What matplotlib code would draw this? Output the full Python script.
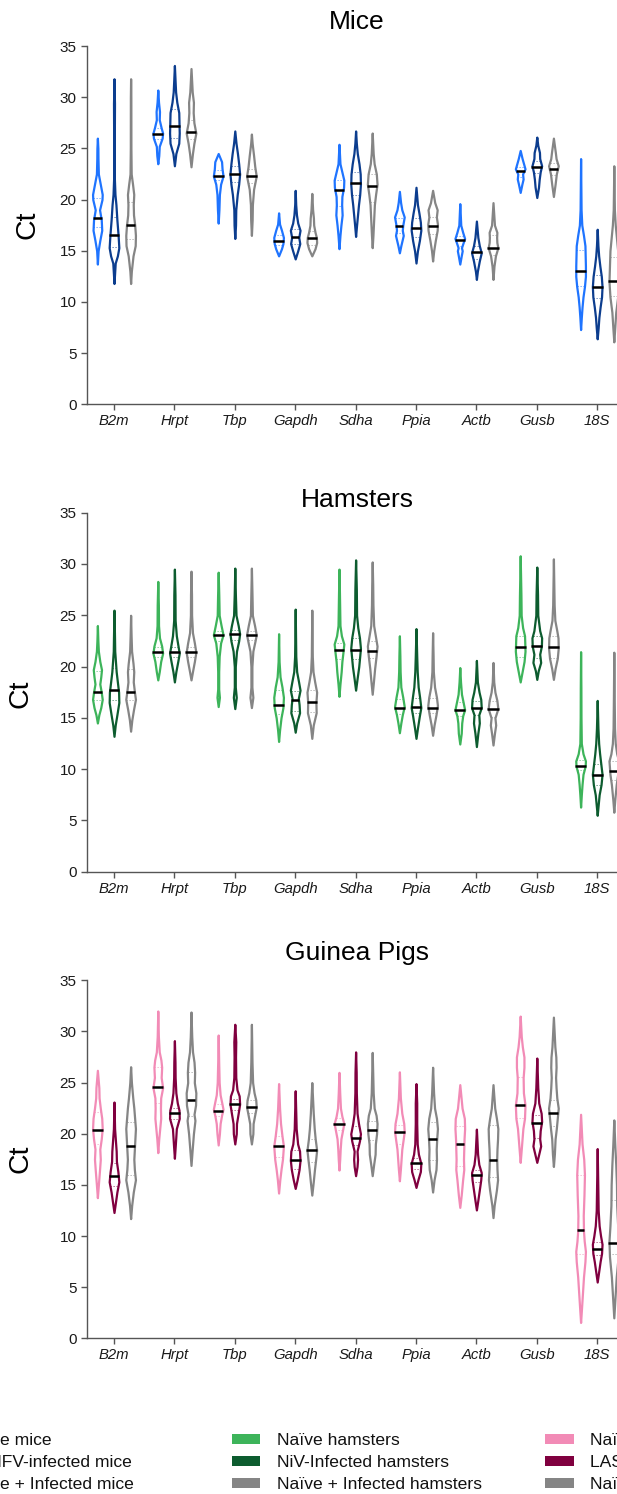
import numpy as np
import matplotlib
matplotlib.use("Agg")
import matplotlib.pyplot as plt
from matplotlib.patches import Rectangle

plt.rcParams['font.family'] = ['Liberation Sans', 'DejaVu Sans']

GENES = ["B2m", "Hrpt", "Tbp", "Gapdh", "Sdha", "Ppia", "Actb", "Gusb", "18S"]
Y_TICKS = [0, 5, 10, 15, 20, 25, 30, 35]
TITLES = ["Mice", "Hamsters", "Guinea Pigs"]

# ---- violin profiles: (Ct, relative width) ----
MICE_NAIVE = [
    [(13.7,0),(15,0.15),(16,0.5),(17,0.9),(18,0.8),(19,0.45),(20,0.95),(20.5,1.0),(21.5,0.6),(22.5,0.2),(24,0.12),(25,0.1),(26,0)],
    [(23.5,0),(24.3,0.2),(25.2,0.3),(26,0.9),(26.5,1.0),(27,0.7),(27.8,0.3),(28.6,0.35),(29.5,0.15),(30.7,0)],
    [(17.7,0),(19,0.15),(20.5,0.25),(21.5,0.5),(22.3,1.0),(23,0.8),(23.7,0.7),(24.5,0)],
    [(14.5,0),(15.2,0.6),(15.7,0.9),(16.3,1.0),(17,0.6),(17.6,0.2),(18.7,0)],
    [(15.2,0),(16.5,0.2),(17.5,0.4),(18.5,0.65),(19.5,0.55),(20.3,0.6),(21.2,0.95),(21.9,1.0),(22.7,0.6),(23.5,0.2),(25.4,0)],
    [(14.8,0),(15.5,0.3),(16.5,0.8),(17,0.6),(17.5,0.7),(18.3,1.0),(19,0.5),(19.7,0.25),(20.8,0)],
    [(13.7,0),(14.5,0.3),(15,0.5),(15.3,0.35),(15.8,0.7),(16.2,1.0),(16.8,0.6),(17.5,0.2),(19.6,0)],
    [(20.7,0),(21.5,0.35),(22,0.6),(22.5,0.5),(23,1.0),(23.5,0.7),(24,0.4),(24.8,0)],
    [(7.3,0),(8.5,0.15),(9.5,0.3),(10.5,0.5),(11.5,0.8),(12.5,1.0),(13.5,1.0),(14.5,0.95),(15.5,0.9),(16.5,0.6),(17.5,0.25),(19,0.1),(21,0.06),(24,0)],
]
MICE_INF = [
    [(11.8,0),(13,0.15),(13.8,0.25),(14.5,0.7),(15.3,1.0),(16.5,0.85),(18,0.6),(19.5,0.4),(20.5,0.2),(22,0.08),(25,0.06),(29.4,0.1),(30.5,0.05),(31.8,0)],
    [(23.3,0),(24.5,0.3),(25.5,0.9),(26.5,1.0),(27.5,0.95),(28.5,0.9),(29.5,0.5),(30.5,0.25),(31.5,0.15),(33.1,0)],
    [(16.2,0),(17.5,0.15),(19,0.2),(20.5,0.5),(21.5,0.8),(22.5,1.0),(23.5,0.8),(24.5,0.55),(25.5,0.25),(26.7,0)],
    [(14.2,0),(15,0.5),(15.7,0.9),(16.3,0.7),(17,0.95),(17.7,0.5),(18.5,0.25),(19.5,0.1),(20.9,0)],
    [(16.4,0),(17.5,0.2),(18.5,0.4),(19.5,0.6),(20.5,0.85),(21.5,1.0),(22.5,0.95),(23.5,0.7),(24.5,0.35),(25.5,0.15),(26.7,0)],
    [(13.8,0),(15,0.3),(16,0.7),(17,1.0),(17.8,0.9),(18.7,0.6),(19.5,0.3),(21.2,0)],
    [(12.2,0),(13,0.2),(14,0.6),(14.8,1.0),(15.5,0.6),(16.3,0.3),(17.9,0)],
    [(20.2,0),(21.2,0.35),(22,0.5),(22.7,0.7),(23.3,1.0),(24,0.6),(24.6,0.55),(25.3,0.2),(26.1,0)],
    [(6.4,0),(7.5,0.2),(8.5,0.35),(9.5,0.6),(10.5,0.9),(11.5,1.0),(12.5,0.85),(13.5,0.55),(14.5,0.3),(15.5,0.15),(17.1,0)],
]
MICE_ALL = [
    [(11.8,0),(13,0.15),(14.5,0.5),(15.5,0.95),(16.5,1.0),(17.5,0.85),(18.5,0.6),(19.5,0.55),(20.5,0.65),(21.5,0.4),(22.5,0.12),(25,0.06),(30,0.05),(31.8,0)],
    [(23.2,0),(24.5,0.3),(25.5,0.6),(26.5,1.0),(27.5,0.6),(28.5,0.45),(29.5,0.5),(30.5,0.25),(32.8,0)],
    [(16.5,0),(18,0.15),(19.5,0.2),(21,0.45),(22.3,1.0),(23.2,0.7),(24.3,0.45),(25.5,0.15),(26.4,0)],
    [(14.5,0),(15.2,0.6),(15.8,0.9),(16.3,0.85),(16.8,0.6),(17.5,0.35),(18.2,0.3),(19,0.15),(20.6,0)],
    [(15.3,0),(16.5,0.15),(18,0.3),(19.5,0.45),(20.5,0.7),(21.5,1.0),(22.5,0.85),(23.5,0.4),(24.5,0.2),(26.5,0)],
    [(14,0),(15,0.2),(16,0.5),(17,0.85),(17.6,0.9),(18.3,0.7),(19,0.85),(19.7,0.4),(20.9,0)],
    [(12.2,0),(13.5,0.2),(14.5,0.5),(15.3,1.0),(15.8,0.8),(16.3,0.75),(16.8,0.8),(17.5,0.3),(19.7,0)],
    [(20.3,0),(21.5,0.35),(22.5,0.6),(23.3,1.0),(24,0.55),(24.6,0.4),(26,0)],
    [(6.1,0),(7.5,0.2),(9,0.4),(10.5,0.8),(12,1.0),(13.5,0.9),(15,0.8),(16,0.6),(17.5,0.3),(19,0.12),(21,0.06),(23.3,0)],
]
HAM_NAIVE = [
    [(14.5,0),(15.3,0.3),(16,0.7),(16.8,1.0),(17.5,0.8),(18.3,0.5),(19,0.7),(19.7,0.85),(20.5,0.5),(21.5,0.2),(22.5,0.1),(24,0)],
    [(18.7,0),(19.5,0.3),(20.5,0.6),(21.3,1.0),(22,0.8),(22.8,0.35),(24,0.15),(26,0.12),(28.3,0)],
    [(16.1,0),(17,0.25),(17.8,0.1),(19.5,0.1),(21,0.2),(22.3,0.5),(23.1,1.0),(24,0.6),(25,0.2),(27,0.12),(29.2,0)],
    [(12.7,0),(13.8,0.2),(15,0.5),(16,0.9),(17,1.0),(18,0.7),(19,0.3),(20.5,0.1),(23.2,0)],
    [(17.1,0),(18.3,0.2),(19.5,0.45),(20.5,0.6),(21.3,0.8),(22.2,1.0),(23,0.5),(24,0.2),(25.5,0.15),(27,0.1),(29.5,0)],
    [(13.55,0),(14.5,0.3),(15.3,0.6),(16.1,1.0),(17,0.7),(18,0.3),(19.5,0.15),(21,0.1),(23,0)],
    [(12.45,0),(13.5,0.3),(14.5,0.4),(15.2,0.6),(15.8,1.0),(16.5,0.7),(17.3,0.35),(18.5,0.15),(19.9,0)],
    [(18.5,0),(19.5,0.4),(20.5,0.8),(21.5,1.0),(22.3,0.95),(23,0.9),(23.8,0.5),(25,0.2),(27,0.15),(30.8,0)],
    [(6.3,0),(7.5,0.15),(8.5,0.3),(9.5,0.5),(10.3,0.95),(10.8,1.0),(11.5,0.5),(12.5,0.15),(15,0.08),(18,0.06),(21.45,0)],
]
HAM_INF = [
    [(13.2,0),(14.3,0.25),(15.3,0.6),(16.5,1.0),(17.5,0.95),(18.5,0.7),(19.5,0.45),(20.5,0.3),(21.5,0.15),(23,0.1),(25.5,0)],
    [(18.5,0),(19.5,0.3),(20.5,0.7),(21.3,1.0),(22,0.75),(23,0.4),(24.5,0.15),(27,0.12),(29.5,0)],
    [(15.9,0),(17,0.3),(18,0.1),(20,0.1),(21.5,0.35),(22.5,0.8),(23.2,1.0),(24,0.7),(25,0.25),(27,0.12),(29.6,0)],
    [(13.6,0),(14.5,0.3),(15.5,0.9),(16.3,0.8),(16.9,0.65),(17.7,1.0),(18.5,0.7),(19.5,0.3),(21,0.12),(25.6,0)],
    [(17.7,0),(18.8,0.3),(20,0.65),(21,0.85),(21.8,1.0),(22.8,0.8),(23.8,0.45),(25,0.2),(27.5,0.15),(28.5,0.1),(30.4,0)],
    [(13,0),(14,0.3),(15.2,0.7),(16,1.0),(17,0.75),(18,0.45),(19.5,0.25),(21,0.15),(23.7,0)],
    [(12.2,0),(13.5,0.3),(14.5,0.6),(15.3,0.5),(16,1.0),(16.8,0.9),(17.5,0.55),(18.5,0.2),(20.6,0)],
    [(18.75,0),(19.6,0.3),(20.4,0.8),(21.2,0.6),(22,0.95),(22.8,1.0),(23.5,0.6),(25,0.2),(27,0.15),(29.7,0)],
    [(5.5,0),(6.5,0.2),(7.5,0.4),(8.5,0.8),(9.5,1.0),(10.5,0.75),(11.5,0.5),(12.5,0.3),(14,0.15),(16.7,0)],
]
HAM_ALL = [
    [(13.7,0),(14.8,0.25),(15.8,0.6),(16.8,1.0),(17.5,0.8),(18.5,0.55),(19.5,0.65),(20.3,0.5),(21.5,0.2),(23,0.1),(25,0)],
    [(18.7,0),(19.5,0.3),(20.5,0.7),(21.4,1.0),(22.3,0.7),(23.3,0.3),(25,0.12),(27,0.1),(29.3,0)],
    [(16,0),(17,0.3),(18,0.1),(20,0.1),(21.5,0.3),(22.5,0.75),(23.1,1.0),(24,0.65),(25,0.2),(27,0.12),(29.6,0)],
    [(13,0),(14.3,0.3),(15.5,0.9),(16.5,0.85),(17.5,1.0),(18.5,0.6),(19.5,0.25),(21,0.1),(25.5,0)],
    [(17.3,0),(18.5,0.25),(19.8,0.5),(21,0.8),(22,1.0),(23,0.65),(24,0.3),(26,0.15),(28,0.1),(30.2,0)],
    [(13.3,0),(14.3,0.3),(15.3,0.7),(16.2,1.0),(17,0.8),(18,0.4),(19.5,0.15),(21,0.1),(23.3,0)],
    [(12.35,0),(13.5,0.3),(14.3,0.55),(15,0.4),(15.9,1.0),(16.7,0.8),(17.5,0.4),(18.5,0.15),(20.4,0)],
    [(18.75,0),(19.8,0.35),(20.8,0.8),(21.8,1.0),(22.8,0.95),(23.5,0.7),(24.5,0.3),(26,0.15),(30.5,0)],
    [(5.8,0),(7,0.2),(8.5,0.5),(9.5,0.8),(10.8,1.0),(11.5,0.6),(12.5,0.3),(14,0.15),(17,0.08),(21.4,0)],
]
GP_NAIVE = [
    [(13.75,0),(15,0.2),(16.5,0.45),(17.5,0.6),(18.5,0.5),(19.5,0.8),(20.5,1.0),(21.5,0.9),(22.5,0.6),(23.5,0.35),(24.5,0.3),(26.2,0)],
    [(18.15,0),(19.5,0.2),(20.5,0.4),(21.5,0.6),(22.5,0.55),(23.5,0.6),(24.5,1.0),(25.5,0.7),(26.5,0.8),(27.2,0.65),(28,0.3),(29.5,0.12),(32,0)],
    [(18.9,0),(20,0.25),(21,0.4),(21.8,0.7),(22.4,1.0),(23,0.75),(23.8,0.4),(25,0.2),(27,0.1),(29.65,0)],
    [(14.2,0),(15.5,0.25),(16.5,0.5),(17.5,0.8),(18.8,1.0),(19.8,0.7),(21,0.4),(22.5,0.2),(24.9,0)],
    [(16.45,0),(17.5,0.15),(18.5,0.25),(19.5,0.4),(20.5,0.8),(21,1.0),(21.7,0.6),(22.5,0.3),(24,0.15),(26,0)],
    [(15.4,0),(16.5,0.2),(17.5,0.35),(18.5,0.5),(19.5,0.8),(20.2,1.0),(21,0.9),(22,0.5),(23.5,0.2),(26.05,0)],
    [(12.8,0),(14,0.25),(15.5,0.5),(16.5,0.7),(17.5,0.65),(18.5,0.7),(19.5,0.75),(20.5,0.85),(21.5,0.8),(22.5,0.4),(24.8,0)],
    [(17.2,0),(18.5,0.2),(19.5,0.35),(20.5,0.5),(21.5,0.8),(22.8,0.9),(24,0.6),(25.5,0.55),(26.5,0.7),(27.5,0.7),(28.5,0.4),(29.5,0.2),(31.5,0)],
    [(1.55,0),(3,0.2),(4.5,0.4),(6,0.6),(7.5,0.9),(8.5,1.0),(9.5,0.75),(10.5,0.6),(12,0.55),(14,0.7),(16,0.8),(17.5,0.65),(19,0.3),(21.9,0)],
]
GP_INF = [
    [(12.3,0),(13.3,0.3),(14.3,0.6),(15.3,1.0),(16.3,0.8),(17.3,0.5),(18.3,0.45),(19.3,0.3),(20.5,0.12),(23.1,0)],
    [(17.6,0),(19,0.2),(20.5,0.4),(21.5,1.0),(22.3,0.95),(23,0.6),(24,0.3),(25.5,0.15),(27,0.12),(29.1,0)],
    [(19,0),(20,0.3),(21,0.35),(22,0.7),(22.9,1.0),(23.7,0.9),(24.3,0.45),(25.5,0.2),(27.5,0.15),(29,0.2),(30.7,0)],
    [(14.65,0),(15.5,0.4),(16.5,0.8),(17.4,1.0),(18.3,0.9),(19,0.5),(20.5,0.2),(22,0.12),(24.2,0)],
    [(15.9,0),(16.8,0.3),(17.5,0.4),(18.3,0.3),(19.3,0.8),(20,1.0),(21,0.6),(22,0.3),(24,0.15),(26,0.12),(28,0)],
    [(14.75,0),(15.5,0.4),(16.3,0.9),(17.1,1.0),(18,0.5),(19,0.25),(21,0.15),(23,0.15),(24.9,0)],
    [(12.55,0),(13.5,0.3),(14.5,0.6),(15.5,0.9),(16.2,1.0),(17,0.5),(18,0.25),(19,0.15),(20.45,0)],
    [(17.2,0),(18,0.4),(18.8,0.8),(19.5,0.6),(20.3,0.7),(21.2,1.0),(22,0.9),(23,0.4),(24.5,0.2),(27.4,0)],
    [(5.5,0),(6.5,0.3),(7.5,0.6),(8.3,0.9),(9.2,1.0),(10,0.7),(11,0.4),(12.5,0.2),(15,0.12),(18.55,0)],
]
GP_ALL = [
    [(11.7,0),(13,0.2),(14.3,0.5),(15.5,0.9),(16.5,0.7),(17.5,0.6),(18.5,0.7),(19.5,0.8),(20.5,0.9),(21.5,0.75),(22.5,0.6),(23.5,0.4),(25,0.15),(26.55,0)],
    [(16.9,0),(18.5,0.2),(20,0.4),(21.3,0.65),(21.9,0.5),(22.8,0.75),(24,0.8),(25,0.55),(26,0.6),(27,0.5),(28,0.25),(29.5,0.12),(31.9,0)],
    [(19,0),(20,0.3),(21,0.35),(22,0.75),(22.6,1.0),(23.3,0.9),(24,0.55),(25,0.25),(27,0.12),(30.7,0)],
    [(14,0),(15.3,0.3),(16.5,0.55),(17.5,0.8),(18.4,1.0),(19.5,0.7),(20.5,0.5),(22,0.3),(23.5,0.15),(25,0)],
    [(15.9,0),(17,0.3),(18,0.6),(19,0.65),(20,0.9),(21,1.0),(21.8,0.8),(22.5,0.4),(24,0.2),(26,0.1),(27.95,0)],
    [(14.3,0),(15.5,0.3),(16.5,0.7),(17.5,0.8),(18.5,0.75),(19.5,0.85),(20.5,1.0),(21.5,0.8),(22.5,0.4),(24,0.2),(26.5,0)],
    [(11.8,0),(13,0.2),(14.5,0.6),(15.5,0.8),(16.5,0.7),(17.5,0.65),(18.5,0.7),(19.5,0.8),(20.5,0.85),(21.5,0.6),(22.5,0.3),(24.8,0)],
    [(16.8,0),(18,0.2),(19.5,0.35),(20.5,0.6),(21.5,0.8),(22.5,1.0),(23.5,0.7),(24.5,0.55),(25.5,0.45),(26.5,0.55),(27.5,0.5),(28.5,0.3),(31.4,0)],
    [(2,0),(4,0.25),(6,0.5),(8,0.9),(9.5,1.0),(11,0.8),(13,0.6),(15,0.55),(17,0.4),(19,0.2),(21.35,0)],
]

# ---- medians and quartiles ----
MICE_NAIVE_MED = [18.2, 26.4, 22.3, 16.0, 20.9, 17.4, 16.05, 22.8, 13.0]
MICE_NAIVE_Q1 = [17.3, 25.9, 21.9, 15.6, 19.4, 16.7, 15.5, 22.2, 11.6]
MICE_NAIVE_Q3 = [20.2, 27.0, 22.9, 16.5, 21.9, 18.2, 16.4, 23.2, 15.1]
MICE_INF_MED = [16.5, 27.2, 22.5, 16.3, 21.6, 17.2, 14.85, 23.2, 11.5]
MICE_INF_Q1 = [15.4, 26.0, 21.7, 15.7, 20.4, 16.3, 14.2, 22.6, 10.4]
MICE_INF_Q3 = [18.3, 28.8, 23.3, 17.1, 22.7, 18.2, 15.5, 23.8, 12.6]
MICE_ALL_MED = [17.5, 26.6, 22.3, 16.2, 21.3, 17.4, 15.3, 23.0, 12.0]
MICE_ALL_Q1 = [16.1, 25.9, 21.6, 15.6, 19.8, 16.6, 14.6, 22.4, 10.6]
MICE_ALL_Q3 = [19.8, 27.8, 23.0, 16.9, 22.5, 18.3, 16.5, 23.6, 14.4]

HAM_NAIVE_MED = [17.5, 21.4, 23.1, 16.3, 21.6, 16.0, 15.8, 21.9, 10.3]
HAM_NAIVE_Q1 = [16.7, 20.9, 22.5, 15.4, 20.7, 15.4, 15.2, 20.9, 9.9]
HAM_NAIVE_Q3 = [19.6, 21.9, 23.5, 17.7, 22.3, 16.8, 16.5, 23.0, 10.9]
HAM_INF_MED = [17.7, 21.4, 23.2, 16.7, 21.6, 16.1, 16.0, 22.0, 9.4]
HAM_INF_Q1 = [16.7, 20.9, 22.6, 15.7, 20.7, 15.5, 15.3, 20.8, 8.5]
HAM_INF_Q3 = [19.9, 21.9, 23.6, 17.6, 22.8, 16.9, 16.6, 23.0, 10.5]
HAM_ALL_MED = [17.5, 21.4, 23.1, 16.5, 21.5, 16.0, 15.9, 21.9, 9.8]
HAM_ALL_Q1 = [16.7, 20.9, 22.6, 15.6, 20.8, 15.5, 15.1, 20.8, 8.9]
HAM_ALL_Q3 = [19.8, 21.9, 23.5, 17.7, 22.5, 16.9, 16.6, 23.0, 10.8]

GP_NAIVE_MED = [20.4, 24.6, 22.25, 18.8, 21.0, 20.2, 19.0, 22.8, 10.6]
GP_NAIVE_Q1 = [19.0, 23.0, 21.7, 17.7, 20.4, 19.0, 16.8, 21.5, 8.2]
GP_NAIVE_Q3 = [22.1, 26.5, 22.9, 19.8, 21.5, 20.9, 20.8, 25.5, 16.0]
GP_INF_MED = [15.9, 22.0, 22.9, 17.4, 19.6, 17.1, 16.0, 21.05, 8.7]
GP_INF_Q1 = [14.9, 21.4, 22.3, 16.6, 18.9, 16.6, 15.3, 19.6, 8.1]
GP_INF_Q3 = [17.1, 22.5, 23.4, 18.4, 20.8, 17.6, 16.5, 21.8, 9.4]
GP_ALL_MED = [18.8, 23.3, 22.6, 18.4, 20.4, 19.5, 17.4, 22.0, 9.35]
GP_ALL_Q1 = [16.0, 21.7, 22.0, 17.2, 19.4, 17.4, 15.8, 20.8, 8.2]
GP_ALL_Q3 = [21.1, 26.0, 23.3, 19.5, 21.2, 21.1, 20.9, 23.3, 13.5]

LEGEND_MICE = ["Naïve mice", "CCHFV-infected mice", "Naïve + Infected mice"]
LEGEND_HAM = ["Naïve hamsters", "NiV-Infected hamsters", "Naïve + Infected hamsters"]
LEGEND_GP = ["Naïve guinea pigs", "LASV-infected guinea pigs", "Naïve + Infected guinea pigs"]

C_MICE = ["#1F74FF", "#0C3D8E", "#858585"]
C_HAM = ["#3DB45A", "#0D5C2F", "#858585"]
C_GP = ["#F28BB6", "#80003F", "#858585"]

# ---- layout ----
W, H = 617, 1494
fig = plt.figure(figsize=(W / 100, H / 100), dpi=100)

def fx(px):
    return px / W

def fy(py):
    return 1 - py / H

AX_LEFT_PX, AX_RIGHT_PX = 86.5, 625.0
CAT0_PX, CAT_STEP_PX = 114.0, 60.4
X_LO = (AX_LEFT_PX - CAT0_PX) / CAT_STEP_PX
X_HI = (AX_RIGHT_PX - CAT0_PX) / CAT_STEP_PX
PANEL_Y = [(46.0, 404.3), (512.7, 871.7), (980.3, 1338.3)]
TITLE_BASE = [29.0, 507.0, 960.0]
CT_POS = [(27.5, 225), (21.0, 694), (21.0, 1159)]
OFFSETS = [-0.275, 0.0, 0.275]
VW = 0.16

panels = [
    ([MICE_NAIVE, MICE_INF, MICE_ALL],
     [MICE_NAIVE_MED, MICE_INF_MED, MICE_ALL_MED],
     [MICE_NAIVE_Q1, MICE_INF_Q1, MICE_ALL_Q1],
     [MICE_NAIVE_Q3, MICE_INF_Q3, MICE_ALL_Q3], C_MICE),
    ([HAM_NAIVE, HAM_INF, HAM_ALL],
     [HAM_NAIVE_MED, HAM_INF_MED, HAM_ALL_MED],
     [HAM_NAIVE_Q1, HAM_INF_Q1, HAM_ALL_Q1],
     [HAM_NAIVE_Q3, HAM_INF_Q3, HAM_ALL_Q3], C_HAM),
    ([GP_NAIVE, GP_INF, GP_ALL],
     [GP_NAIVE_MED, GP_INF_MED, GP_ALL_MED],
     [GP_NAIVE_Q1, GP_INF_Q1, GP_ALL_Q1],
     [GP_NAIVE_Q3, GP_INF_Q3, GP_ALL_Q3], C_GP),
]

TICK_FS = 11.0
for p, (profs, meds, q1s, q3s, cols) in enumerate(panels):
    top, bot = PANEL_Y[p]
    ax = fig.add_axes([fx(AX_LEFT_PX), fy(bot), fx(AX_RIGHT_PX) - fx(AX_LEFT_PX), (bot - top) / H])
    ax.set_xlim(X_LO, X_HI)
    ax.set_ylim(0, 35)
    for g in range(3):
        for i, prof in enumerate(profs[g]):
            ct = np.array([a for a, b in prof], dtype=float)
            w = np.array([b for a, b in prof], dtype=float)
            x = i + OFFSETS[g]
            st = dict(coords=ct, vals=w, mean=meds[g][i], median=meds[g][i],
                      min=ct[0], max=ct[-1], quantiles=np.array([]))
            parts = ax.violin([st], positions=[x], widths=VW, showmeans=False,
                              showextrema=False, showmedians=False)
            for b in parts['bodies']:
                b.set_facecolor('white')
                b.set_edgecolor(cols[g])
                b.set_linewidth(1.6)
                b.set_alpha(1)
                b.set_joinstyle('round')
                b.set_zorder(2)
            for q in (q1s[g][i], q3s[g][i]):
                hw = np.interp(q, ct, w) * VW / 2
                ax.plot([x - hw, x + hw], [q, q], color=cols[g], lw=0.7,
                        ls=(0, (1.5, 1.5)), alpha=0.55, zorder=3, solid_capstyle='butt')
            hw = np.interp(meds[g][i], ct, w) * VW / 2 + 0.012
            ax.plot([x - hw, x + hw], [meds[g][i]] * 2, color='black', lw=1.8,
                    zorder=4, solid_capstyle='butt')
    ax.set_xticks(range(len(GENES)))
    ax.set_xticklabels(GENES, fontstyle='italic', fontsize=10.7, color='#1a1a1a')
    ax.set_yticks(Y_TICKS)
    ax.set_yticklabels([str(v) for v in Y_TICKS], fontsize=TICK_FS, color='#1a1a1a')
    for s in ('top', 'right'):
        ax.spines[s].set_visible(False)
    for s in ('left', 'bottom'):
        ax.spines[s].set_color('#555555')
        ax.spines[s].set_linewidth(1.0)
    ax.tick_params(axis='both', direction='out', length=4.2, width=1.0, color='#555555', pad=3)
    ax.patch.set_alpha(0)
    fig.text(fx(357), fy(TITLE_BASE[p]), TITLES[p], fontsize=19, ha='center', va='baseline')
    cx, cy = CT_POS[p]
    fig.text(fx(cx), fy(cy), "Ct", fontsize=20.5, rotation=90, ha='center', va='center')

# ---- legend (three fixed columns) ----
LEG_PATCH_X = [-82, 231.7, 545.3]
LEG_TEXT_X = [-36, 277, 590]
LEG_ROWS = [1438.7, 1461.2, 1483.4]
LEG_FS = 12.6
for c, (labels, cols) in enumerate([(LEGEND_MICE, C_MICE), (LEGEND_HAM, C_HAM), (LEGEND_GP, C_GP)]):
    for r in range(3):
        yc = LEG_ROWS[r]
        fig.add_artist(Rectangle((fx(LEG_PATCH_X[c]), fy(yc + 5.0)), 28.5 / W, 10.0 / H,
                                 transform=fig.transFigure, facecolor=cols[r],
                                 edgecolor='none'))
        fig.text(fx(LEG_TEXT_X[c]), fy(yc), labels[r], fontsize=LEG_FS,
                 ha='left', va='center_baseline', color='#111111')

fig.savefig("out.png", dpi=100)
